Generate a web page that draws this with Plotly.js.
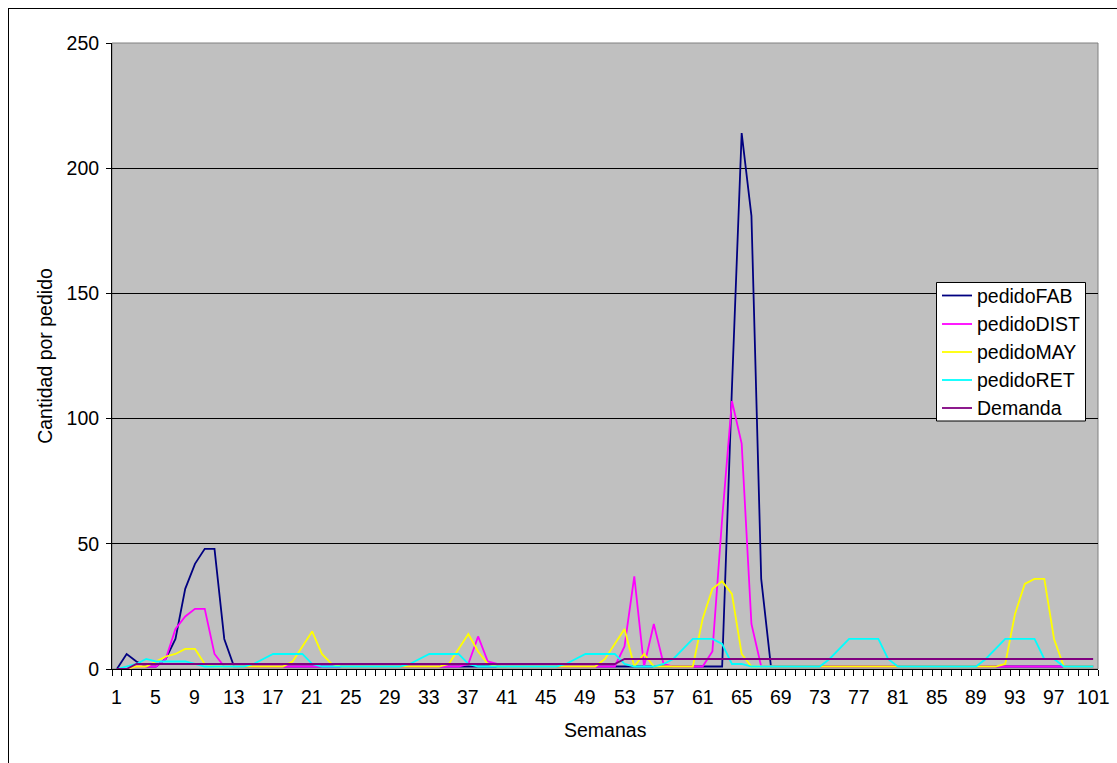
<!DOCTYPE html>
<html>
<head>
<meta charset="utf-8">
<script src="https://cdn.plot.ly/plotly-3.0.1.min.js"></script>
<style>
  html, body { margin: 0; padding: 0; background: #ffffff; }
  #wrap { position: relative; width: 1117px; height: 763px; overflow: hidden; }
  #chart { position: absolute; left: 0; top: 0; width: 1117px; height: 763px; }
  #frame { position: absolute; left: 8px; top: 8px; width: 1120px; height: 780px;
           border-left: 1px solid #000; border-top: 1px solid #000; pointer-events: none; }
</style>
</head>
<body>
<div id="wrap">
  <div id="chart"></div>
  <div id="frame"></div>
</div>
<script>
// Weekly order quantities per supply-chain stage (weeks 1..101)
const weeks = Array.from({length: 101}, (_, i) => i + 1);
const weekTicks = [1,5,9,13,17,21,25,29,33,37,41,45,49,53,57,61,65,69,73,77,81,85,89,93,97,101];

const pedidoFAB = [
  0,6,3,1,1,4,12,32,42,48,
  48,12,1,1,1,1,1,1,1,1,
  1,1,1,1,1,1,1,1,1,1,
  1,1,1,1,1,1,1,1,1,1,
  1,1,1,1,1,1,1,1,1,1,
  1,1,1,1,1,1,1,1,1,1,
  1,1,1,112,214,181,36,1,1,1,
  1,1,1,1,1,1,1,1,1,1,
  1,1,1,1,1,1,1,1,1,1,
  1,1,1,1,1,1,1,1,1,1,
  1
];

const pedidoDIST = [
  0,0,1,1,1,4,16,21,24,24,
  6,1,1,1,1,1,1,1,1,1,
  1,1,1,1,1,1,1,1,1,1,
  1,1,1,1,1,1,2,13,3,2,
  1,1,1,1,1,1,1,1,1,1,
  1,1,9,37,1,18,2,1,1,1,
  1,7,60,107,90,18,1,1,1,1,
  1,1,1,1,1,1,1,1,1,1,
  1,1,1,1,1,1,1,1,1,1,
  1,1,1,1,1,1,1,1,1,1,
  1
];

const pedidoMAY = [
  0,0,1,1,3,5,6,8,8,2,
  1,1,1,1,1,1,1,1,3,9,
  15,6,2,1,1,1,1,1,1,1,
  1,1,1,1,2,8,14,7,2,1,
  1,1,1,1,1,1,1,1,1,1,
  4,10,16,1,6,1,1,1,1,1,
  20,32,35,30,6,1,1,1,1,1,
  1,1,1,1,1,1,1,1,1,1,
  1,1,1,1,1,1,1,1,1,1,
  1,2,22,34,36,36,12,1,1,1,
  1
];

const pedidoRET = [
  0,1,2,4,3,3,3,3,2,1,
  1,1,1,1,2,4,6,6,6,6,
  2,1,1,1,1,1,1,1,1,1,
  2,4,6,6,6,6,2,1,1,1,
  1,1,1,1,1,1,2,4,6,6,
  6,6,2,1,1,1,2,4,8,12,
  12,12,10,2,2,1,1,1,1,1,
  1,1,1,4,8,12,12,12,12,4,
  1,1,1,1,1,1,1,1,1,4,
  8,12,12,12,12,4,4,1,1,1,
  1
];

const demanda = [
  0,0,2,2,2,2,2,2,2,2,
  2,2,2,2,2,2,2,2,2,2,
  2,2,2,2,2,2,2,2,2,2,
  2,2,2,2,2,2,2,2,2,2,
  2,2,2,2,2,2,2,2,2,2,
  2,2,4,4,4,4,4,4,4,4,
  4,4,4,4,4,4,4,4,4,4,
  4,4,4,4,4,4,4,4,4,4,
  4,4,4,4,4,4,4,4,4,4,
  4,4,4,4,4,4,4,4,4,4,
  4
];

const seriesNames = ['pedidoFAB', 'pedidoDIST', 'pedidoMAY', 'pedidoRET', 'Demanda'];
const seriesColors = ['#000080', '#FF00FF', '#FFFF00', '#00FFFF', '#800080'];
const seriesValues = [pedidoFAB, pedidoDIST, pedidoMAY, pedidoRET, demanda];

const traces = seriesValues.map((vals, i) => ({
  type: 'scatter',
  mode: 'lines',
  x: weeks,
  y: vals,
  name: seriesNames[i],
  showlegend: false,
  line: {color: seriesColors[i], width: 1.8},
  hoverinfo: 'x+y+name'
}));

const font = 'Liberation Sans, Arial, sans-serif';
const txt = {family: font, size: 19.5, color: '#000000'};

// Figure geometry (pixels) used to place the boxed key, week labels and x title
const W = 1117, H = 763;
const M = {l: 112, r: 19, t: 43, b: 94};
const plotW = W - M.l - M.r, plotH = H - M.t - M.b;
const px = v => (v - M.l) / plotW;
const py = v => (H - M.b - v) / plotH;

const keyBox = {left: 936.5, right: 1085.5, top: 282.5, bottom: 421};
const keyLine = {x0: 942, x1: 972};
const keyTextX = 975;
const keyRowY = [295.5, 324, 352, 380, 408];

const shapes = [
  {type: 'rect', xref: 'paper', yref: 'paper', x0: 0, x1: 1, y0: 0, y1: 1,
   line: {color: '#808080', width: 1}, layer: 'below'},
  {type: 'rect', xref: 'paper', yref: 'paper',
   x0: px(keyBox.left), x1: px(keyBox.right), y0: py(keyBox.bottom), y1: py(keyBox.top),
   fillcolor: '#ffffff', line: {color: '#000000', width: 1}, layer: 'above'}
];

// Week labels under the category axis, placed on the x scale
const annotations = weekTicks.map(w => ({
  xref: 'x', yref: 'paper', x: w, y: py(697), xanchor: 'center', yanchor: 'middle',
  showarrow: false, text: String(w), font: txt
}));
annotations.push({
  xref: 'paper', yref: 'paper', x: 0.5, y: py(730), xanchor: 'center', yanchor: 'middle',
  showarrow: false, text: 'Semanas', font: txt
});
seriesNames.forEach((name, i) => {
  shapes.push({type: 'line', xref: 'paper', yref: 'paper',
    x0: px(keyLine.x0), x1: px(keyLine.x1), y0: py(keyRowY[i]), y1: py(keyRowY[i]),
    line: {color: seriesColors[i], width: 1.8}, layer: 'above'});
  annotations.push({xref: 'paper', yref: 'paper', x: px(keyTextX), y: py(keyRowY[i]),
    xanchor: 'left', yanchor: 'middle', showarrow: false, text: name, font: txt});
});

const layout = {
  width: W,
  height: H,
  margin: M,
  paper_bgcolor: '#ffffff',
  plot_bgcolor: '#C0C0C0',
  font: txt,
  showlegend: false,
  xaxis: {
    range: [0.5, 101.5],
    showticklabels: false,
    ticks: '',
    showline: true, linecolor: '#000000', linewidth: 1,
    showgrid: false, zeroline: false,
    minor: {tickmode: 'linear', tick0: 0.5, dtick: 1, ticks: 'outside', ticklen: 6,
            tickcolor: '#000000', tickwidth: 1, showgrid: false}
  },
  yaxis: {
    range: [0, 250],
    tickmode: 'array',
    tickvals: [0, 50, 100, 150, 200, 250],
    ticks: 'outside', ticklen: 5, tickcolor: '#000000', tickwidth: 1,
    ticklabelstandoff: 3,
    tickfont: txt,
    showline: true, linecolor: '#000000', linewidth: 1,
    showgrid: true, gridcolor: '#000000', gridwidth: 1,
    zeroline: false,
    title: {text: 'Cantidad por pedido', font: txt, standoff: 8}
  },
  shapes: shapes,
  annotations: annotations
};

Plotly.newPlot('chart', traces, layout, {displayModeBar: false, staticPlot: true});
</script>
</body>
</html>
